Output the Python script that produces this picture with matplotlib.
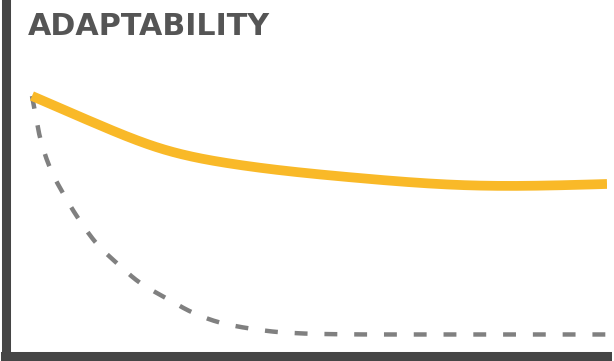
import matplotlib.pyplot as plt
import numpy as np

# adaptability over time: solid = with feedback, dashed = without
time = [0, 11.3, 22.8, 34.4, 55.8, 75.7, 100]
adapt_solid = [100, 89.2, 79.5, 74.0, 68.6, 65.6, 66.1]

time_dashed = [0, 1.4, 3.1, 5.4, 8.3, 11.3, 14.8, 18.8, 23.5, 28.0, 32.7, 37.9, 43.6, 50, 60, 70, 80, 90, 100]
adapt_dashed = [100, 84, 72.5, 62.5, 52, 43, 35.5, 28, 21.9, 16.5, 12.7, 10.4, 8.9, 8.3, 8.1, 8.1, 8.1, 8.1, 8.1]

W, H = 614, 361
fig = plt.figure(figsize=(W / 100, H / 100), dpi=100)

# axes box in pixels: left spine at x=5.5, bottom spine at y=355.5, right edge 607, top 2
left_px, right_px, bottom_px, top_px = 5.5, 607, 355.5, 2
ax = fig.add_axes([left_px / W, (H - bottom_px) / H,
                   (right_px - left_px) / W, (bottom_px - top_px) / H])

# data x=0 at px 32, x=100 at px 607; y=100 at px 96, y=0 at px 355.5
xs = (607 - 32) / 100
ys = (355.5 - 96) / 100
ax.set_xlim(-(32 - left_px) / xs, 100)
ax.set_ylim(0, (bottom_px - top_px) / ys)


def pchip(x, y, n=400):
    # monotone cubic through the given points
    x = np.asarray(x, float)
    y = np.asarray(y, float)
    h = np.diff(x)
    d = np.diff(y) / h
    m = np.zeros_like(y)
    m[0], m[-1] = d[0], d[-1]
    for i in range(1, len(y) - 1):
        if d[i - 1] * d[i] > 0:
            w1 = 2 * h[i] + h[i - 1]
            w2 = h[i] + 2 * h[i - 1]
            m[i] = (w1 + w2) / (w1 / d[i - 1] + w2 / d[i])
    return hermite(x, y, m, n)


def natural_spline(x, y, n=400):
    # natural cubic spline, converted to hermite slopes
    x = np.asarray(x, float)
    y = np.asarray(y, float)
    k = len(x)
    h = np.diff(x)
    A = np.zeros((k, k))
    b = np.zeros(k)
    A[0, 0] = A[-1, -1] = 1
    for i in range(1, k - 1):
        A[i, i - 1] = h[i - 1]
        A[i, i] = 2 * (h[i - 1] + h[i])
        A[i, i + 1] = h[i]
        b[i] = 3 * ((y[i + 1] - y[i]) / h[i] - (y[i] - y[i - 1]) / h[i - 1])
    c = np.linalg.solve(A, b)
    m = np.zeros(k)
    for i in range(k - 1):
        m[i] = (y[i + 1] - y[i]) / h[i] - h[i] * (2 * c[i] + c[i + 1]) / 3
    m[-1] = (y[-1] - y[-2]) / h[-1] + h[-1] * (c[-2] + 2 * c[-1]) / 3
    return hermite(x, y, m, n)


def hermite(x, y, m, n):
    h = np.diff(x)
    xx = np.linspace(x[0], x[-1], n)
    idx = np.clip(np.searchsorted(x, xx) - 1, 0, len(h) - 1)
    t = (xx - x[idx]) / h[idx]
    h00 = 2 * t**3 - 3 * t**2 + 1
    h10 = t**3 - 2 * t**2 + t
    h01 = -2 * t**3 + 3 * t**2
    h11 = t**3 - t**2
    yy = h00 * y[idx] + h10 * h[idx] * m[idx] + h01 * y[idx + 1] + h11 * h[idx] * m[idx + 1]
    return xx, yy


xd, yd = pchip(time_dashed, adapt_dashed)
ax.plot(xd, yd, color='#808080', lw=3.2, dashes=(2.9, 3.8),
        dash_capstyle='butt', zorder=2)

xsl, ysl = natural_spline(time, adapt_solid)
ax.plot(xsl, ysl, color='#f9b928', lw=7.0, solid_capstyle='butt', zorder=3)

for side in ['top', 'right']:
    ax.spines[side].set_visible(False)
for side in ['left', 'bottom']:
    ax.spines[side].set_color('#454545')
    ax.spines[side].set_linewidth(6.5)
    ax.spines[side].set_capstyle('projecting')
ax.set_xticks([])
ax.set_yticks([])

fig.text(28 / W, 1 - 35 / H, 'ADAPTABILITY', fontsize=21.7, color='#555555',
         fontweight='bold', va='baseline', ha='left', family='DejaVu Sans')

fig.savefig('out.png', dpi=100)
